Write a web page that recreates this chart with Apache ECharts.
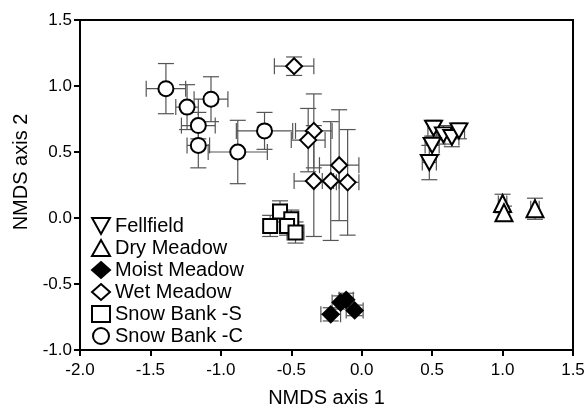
<!DOCTYPE html>
<html>
<head>
    <meta charset="UTF-8"/>
    <title>NMDS</title>
    <script type="text/javascript" src="https://cdn.jsdelivr.net/npm/echarts@6/dist/echarts.min.js"></script>
    <style>
        html, body { margin: 0; padding: 0; background: #fff; }
    </style>
</head>
<body>
<div id="main" style="width: 588px;height:406px;"></div>
<script type="text/javascript">
    // each point: [axis1, axis2, err1, err2]
    var fellfield = [
        [0.51, 0.68, 0.04, 0.06],
        [0.58, 0.63, 0.05, 0.07],
        [0.64, 0.61, 0.05, 0.07],
        [0.69, 0.66, 0.04, 0.06],
        [0.50, 0.55, 0.05, 0.07],
        [0.48, 0.42, 0.05, 0.13]
    ];
    var dryMeadow = [
        [1.00, 0.11, 0.03, 0.07],
        [1.01, 0.04, 0.03, 0.05],
        [1.23, 0.07, 0.03, 0.08]
    ];
    var moistMeadow = [
        [-0.22, -0.73, 0.07, 0.05],
        [-0.15, -0.64, 0.06, 0.05],
        [-0.11, -0.62, 0.05, 0.05],
        [-0.05, -0.70, 0.06, 0.04]
    ];
    var wetMeadow = [
        [-0.48, 1.15, 0.14, 0.07],
        [-0.34, 0.66, 0.13, 0.28],
        [-0.38, 0.59, 0.12, 0.24],
        [-0.16, 0.40, 0.14, 0.42],
        [-0.34, 0.28, 0.14, 0.42],
        [-0.22, 0.28, 0.06, 0.45],
        [-0.10, 0.27, 0.08, 0.40]
    ];
    var snowBankS = [
        [-0.58, 0.05, 0.05, 0.08],
        [-0.65, -0.06, 0.04, 0.08],
        [-0.50, -0.01, 0.05, 0.07],
        [-0.53, -0.06, 0.05, 0.07],
        [-0.47, -0.11, 0.06, 0.08]
    ];
    var snowBankC = [
        [-1.39, 0.98, 0.14, 0.19],
        [-1.24, 0.84, 0.08, 0.17],
        [-1.07, 0.90, 0.12, 0.17],
        [-1.16, 0.70, 0.12, 0.10],
        [-1.16, 0.55, 0.08, 0.17],
        [-0.88, 0.50, 0.21, 0.24],
        [-0.69, 0.66, 0.20, 0.14]
    ];

    var downTri = 'path://M0,0 L10,0 L5,9 Z';
    var groups = [
        {name: 'Fellfield', data: fellfield, symbol: downTri, size: [17, 15], fill: '#fff'},
        {name: 'Dry Meadow', data: dryMeadow, symbol: 'triangle', size: 17, fill: '#fff'},
        {name: 'Moist Meadow', data: moistMeadow, symbol: 'diamond', size: 16, fill: '#000'},
        {name: 'Wet Meadow', data: wetMeadow, symbol: 'diamond', size: 16, fill: '#fff'},
        {name: 'Snow Bank -S', data: snowBankS, symbol: 'rect', size: 14, fill: '#fff'},
        {name: 'Snow Bank -C', data: snowBankC, symbol: 'circle', size: 15, fill: '#fff'}
    ];

    var font = "'Liberation Sans', Arial, sans-serif";

    function renderErr(params, api) {
        var x = api.value(0), y = api.value(1), ex = api.value(2), ey = api.value(3);
        var c = api.coord([x, y]);
        var l = api.coord([x - ex, y])[0], r = api.coord([x + ex, y])[0];
        var t = api.coord([x, y + ey])[1], b = api.coord([x, y - ey])[1];
        var h = 8;
        var st = {stroke: '#555', lineWidth: 1.2};
        return {
            type: 'group',
            children: [
                {type: 'line', shape: {x1: l, y1: c[1], x2: r, y2: c[1]}, style: st},
                {type: 'line', shape: {x1: l, y1: c[1] - h, x2: l, y2: c[1] + h}, style: st},
                {type: 'line', shape: {x1: r, y1: c[1] - h, x2: r, y2: c[1] + h}, style: st},
                {type: 'line', shape: {x1: c[0], y1: t, x2: c[0], y2: b}, style: st},
                {type: 'line', shape: {x1: c[0] - h, y1: t, x2: c[0] + h, y2: t}, style: st},
                {type: 'line', shape: {x1: c[0] - h, y1: b, x2: c[0] + h, y2: b}, style: st}
            ]
        };
    }

    var series = [];
    groups.forEach(function (g) {
        series.push({
            type: 'custom',
            renderItem: renderErr,
            data: g.data,
            encode: {x: 0, y: 1},
            silent: true,
            z: 1
        });
    });
    groups.forEach(function (g) {
        series.push({
            name: g.name,
            type: 'scatter',
            data: g.data,
            symbol: g.symbol,
            symbolSize: g.size,
            itemStyle: {color: g.fill, borderColor: '#000', borderWidth: 2, opacity: 1},
            z: 2
        });
    });

    var myChart = echarts.init(document.getElementById('main'), null, {renderer: 'canvas'});
    var option = {
        animation: false,
        backgroundColor: '#fff',
        textStyle: {fontFamily: font},
        grid: {
            left: 80, right: 15, top: 20, bottom: 56,
            outerBoundsMode: 'none',
            containLabel: false,
            show: true, borderColor: '#000', borderWidth: 2
        },
        legend: {
            orient: 'vertical',
            left: 86, top: 210,
            itemWidth: 18, itemHeight: 16, itemGap: 0,
            data: groups.map(function (g) { return {name: g.name, icon: g.symbol}; }),
            textStyle: {fontSize: 20, lineHeight: 22, color: '#000', fontFamily: font}
        },
        xAxis: {
            type: 'value',
            min: -2, max: 1.5, interval: 0.5,
            name: 'NMDS axis 1',
            nameLocation: 'middle',
            nameGap: 38,
            nameTextStyle: {fontSize: 20, color: '#000', fontFamily: font},
            axisLine: {onZero: false, lineStyle: {color: '#000', width: 2}},
            axisTick: {length: 6, lineStyle: {color: '#000', width: 2}},
            axisLabel: {fontSize: 17, color: '#000', fontFamily: font, margin: 12,
                formatter: function (v) { return v.toFixed(1); }},
            splitLine: {show: false}
        },
        yAxis: {
            type: 'value',
            min: -1, max: 1.5, interval: 0.5,
            name: 'NMDS axis 2',
            nameLocation: 'middle',
            nameGap: 37,
            nameTextStyle: {fontSize: 20, color: '#000', fontFamily: font, padding: [0, 0, 0, 26]},
            axisLine: {onZero: false, lineStyle: {color: '#000', width: 2}},
            axisTick: {length: 6, lineStyle: {color: '#000', width: 2}},
            axisLabel: {fontSize: 17, color: '#000', fontFamily: font, margin: 8,
                formatter: function (v) { return v.toFixed(1); }},
            splitLine: {show: false}
        },
        series: series
    };
    myChart.setOption(option);
</script>
</body>
</html>
